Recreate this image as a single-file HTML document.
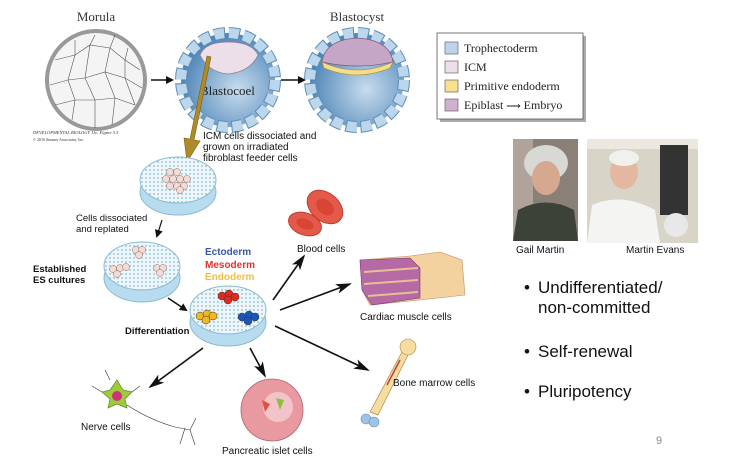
<!DOCTYPE html>
<html><head><meta charset="utf-8"><style>
html,body{margin:0;padding:0;background:#fff;}
svg{display:block;}
.s{font-family:"Liberation Serif",serif;}
.a{font-family:"Liberation Sans",sans-serif;}
</style></head><body>
<svg width="734" height="462" viewBox="0 0 734 462" xmlns="http://www.w3.org/2000/svg">
<defs>
<radialGradient id="cav" cx="0.6" cy="0.6" r="0.6"><stop offset="0" stop-color="#c8dcee"/><stop offset="1" stop-color="#4f86b8"/></radialGradient>
<pattern id="dots" width="4" height="4" patternUnits="userSpaceOnUse"><rect width="4" height="4" fill="#eef6fa"/><circle cx="2" cy="2" r="1" fill="#9cc9dc"/></pattern>
<marker id="ah" markerWidth="8" markerHeight="8" refX="6" refY="4" orient="auto" markerUnits="userSpaceOnUse"><path d="M0,0 L8,4 L0,8 z" fill="#111"/></marker>
<marker id="ah2" markerWidth="16" markerHeight="10" refX="14" refY="5" orient="auto" markerUnits="userSpaceOnUse"><path d="M0,0 L16,5 L0,10 L4,5 z" fill="#111"/></marker>
</defs>
<rect width="734" height="462" fill="#fff"/>

<!-- Morula -->
<text class="s" x="96" y="21" font-size="13" text-anchor="middle" fill="#333">Morula</text>
<circle cx="96" cy="80" r="49" fill="#f4f4f4" stroke="#999" stroke-width="4"/>
<g stroke="#555" stroke-width="0.6" fill="none">
<path d="M55,60 L75,55 L90,45 L110,48 L125,60 L140,70"/><path d="M50,85 L68,80 L85,78 L105,72 L125,78 L142,88"/>
<path d="M55,105 L75,100 L95,100 L115,98 L135,105"/><path d="M75,40 L75,55 L68,80 L75,100 L72,120"/>
<path d="M95,35 L90,45 L85,78 L95,100 L95,128"/><path d="M115,35 L110,48 L105,72 L115,98 L112,125"/><path d="M128,48 L125,60 L125,78 L135,105"/>
</g>
<text class="s" x="33" y="134" font-size="4.5" font-style="italic" fill="#333">DEVELOPMENTAL BIOLOGY 11e, Figure 5.5</text>
<text class="s" x="33" y="141" font-size="4" fill="#333">© 2016 Sinauer Associates, Inc.</text>
<line x1="151" y1="80" x2="172" y2="80" stroke="#111" stroke-width="1.5" marker-end="url(#ah)"/>

<!-- Blastocoel embryo -->
<circle cx="228" cy="80" r="47" fill="url(#cav)"/>
<circle cx="228" cy="80" r="47" fill="none" stroke="#5e8db5" stroke-width="12" stroke-dasharray="11 3.8"/>
<circle cx="228" cy="80" r="47" fill="none" stroke="#bcd6ec" stroke-width="10" stroke-dasharray="10 4.8"/>
<path d="M200,55 Q205,42 228,42 Q252,42 258,55 Q250,72 228,74 Q208,72 200,55z" fill="#ecdfea" stroke="#8c7a90" stroke-width="0.7"/>
<text class="s" x="200" y="95" font-size="13" fill="#222">Blastocoel</text>
<line x1="281" y1="80" x2="304" y2="80" stroke="#111" stroke-width="1.5" marker-end="url(#ah)"/>

<!-- Blastocyst -->
<text class="s" x="357" y="21" font-size="13" text-anchor="middle" fill="#333">Blastocyst</text>
<circle cx="357" cy="80" r="47" fill="url(#cav)"/>
<circle cx="357" cy="80" r="47" fill="none" stroke="#5e8db5" stroke-width="12" stroke-dasharray="11 3.8"/>
<circle cx="357" cy="80" r="47" fill="none" stroke="#bcd6ec" stroke-width="10" stroke-dasharray="10 4.8"/>
<path d="M322,62 Q325,40 357,38 Q390,40 393,62 Q357,70 322,62z" fill="#c6a6c6" stroke="#7a5a80" stroke-width="0.7"/>
<path d="M322,62 Q357,78 393,62 L390,68 Q357,82 324,68z" fill="#f7dc8a" stroke="#9a8a40" stroke-width="0.6"/>

<!-- Legend -->
<rect x="440" y="36" width="146" height="86" fill="#aaa"/>
<rect x="437" y="33" width="146" height="86" fill="#fff" stroke="#555" stroke-width="0.8"/>
<g stroke="#666" stroke-width="0.7">
<rect x="445" y="42" width="13" height="12" fill="#bcd5ea"/><rect x="445" y="61" width="13" height="12" fill="#ecdfea"/>
<rect x="445" y="80" width="13" height="12" fill="#fbdf8f"/><rect x="445" y="99" width="13" height="12" fill="#cfb0cf"/>
</g>
<g class="s" font-size="12" fill="#222">
<text x="464" y="52">Trophectoderm</text><text x="464" y="71">ICM</text>
<text x="464" y="90">Primitive endoderm</text><text x="464" y="109">Epiblast <tspan font-size="10">⟶</tspan> Embryo</text>
</g>

<!-- gold arrow -->
<polygon points="207,56 211,57 194,140 200,141 187,162 184,138 190,139" fill="#b08a2a" stroke="#7a5e10" stroke-width="0.6"/>
<g class="a" font-size="10" fill="#111">
<text x="203" y="139">ICM cells dissociated and</text><text x="203" y="150">grown on irradiated</text><text x="203" y="161">fibroblast feeder cells</text>
</g>

<!-- dish 1 -->
<ellipse cx="178" cy="192" rx="38" ry="23" fill="#b7dcef" stroke="#8cbad0"/>
<ellipse cx="178" cy="180" rx="38" ry="23" fill="url(#dots)" stroke="#8cbad0"/>
<g fill="#f4dcd4" stroke="#8a6a6a" stroke-width="0.5"><circle cx="170" cy="172" r="3.5"/><circle cx="177" cy="172" r="3.5"/><circle cx="166" cy="179" r="3.5"/><circle cx="173" cy="179" r="3.5"/><circle cx="180" cy="179" r="3.5"/><circle cx="187" cy="179" r="3.5"/><circle cx="170" cy="186" r="3.5"/><circle cx="177" cy="186" r="3.5"/><circle cx="184" cy="186" r="3.5"/><circle cx="180" cy="190" r="3.5"/></g>
<g class="a" font-size="9.5" fill="#111"><text x="76" y="221">Cells dissociated</text><text x="76" y="232">and replated</text></g>
<line x1="162" y1="220" x2="157" y2="236" stroke="#111" stroke-width="1.2" marker-end="url(#ah)"/>

<!-- dish 2 -->
<ellipse cx="142" cy="278" rx="38" ry="24" fill="#b7dcef" stroke="#8cbad0"/>
<ellipse cx="142" cy="266" rx="38" ry="24" fill="url(#dots)" stroke="#8cbad0"/>
<g fill="#f4dcd4" stroke="#8a6a6a" stroke-width="0.5"><circle cx="136" cy="250" r="3.5"/><circle cx="142" cy="250" r="3.5"/><circle cx="139" cy="255" r="3.5"/><circle cx="113" cy="269" r="3.5"/><circle cx="120" cy="268" r="3.5"/><circle cx="117" cy="274" r="3.5"/><circle cx="126" cy="267" r="3.5"/><circle cx="157" cy="268" r="3.5"/><circle cx="163" cy="268" r="3.5"/><circle cx="160" cy="273" r="3.5"/></g>
<g class="a" font-size="9.5" font-weight="bold" fill="#111"><text x="33" y="272">Established</text><text x="33" y="283">ES cultures</text></g>
<line x1="168" y1="298" x2="186" y2="310" stroke="#111" stroke-width="1.5" marker-end="url(#ah)"/>

<!-- dish 3 -->
<ellipse cx="228" cy="322" rx="38" ry="24" fill="#b7dcef" stroke="#8cbad0"/>
<ellipse cx="228" cy="310" rx="38" ry="24" fill="url(#dots)" stroke="#8cbad0"/>
<g stroke="#333" stroke-width="0.5"><g fill="#e02a20"><circle cx="222" cy="296" r="4"/><circle cx="229" cy="294" r="4"/><circle cx="235" cy="297" r="4"/><circle cx="228" cy="300" r="4"/></g>
<g fill="#f2b81c"><circle cx="200" cy="316" r="4"/><circle cx="207" cy="314" r="4"/><circle cx="213" cy="316" r="4"/><circle cx="206" cy="320" r="4"/></g>
<g fill="#1c55b8"><circle cx="242" cy="317" r="4"/><circle cx="249" cy="315" r="4"/><circle cx="255" cy="317" r="4"/><circle cx="248" cy="321" r="4"/></g></g>
<g class="a" font-size="10" font-weight="bold"><text x="205" y="255" fill="#3a58a8">Ectoderm</text><text x="205" y="268" fill="#e8302a">Mesoderm</text><text x="205" y="280" fill="#f2be40">Endoderm</text></g>
<text class="a" x="125" y="334" font-size="9.5" font-weight="bold" fill="#111">Differentiation</text>

<!-- arrows out -->
<g stroke="#111" stroke-width="1.6">
<line x1="273" y1="300" x2="304" y2="256" marker-end="url(#ah2)"/>
<line x1="280" y1="310" x2="350" y2="284" marker-end="url(#ah2)"/>
<line x1="275" y1="326" x2="368" y2="370" marker-end="url(#ah2)"/>
<line x1="250" y1="348" x2="265" y2="376" marker-end="url(#ah2)"/>
<line x1="203" y1="348" x2="150" y2="387" marker-end="url(#ah2)"/>
</g>

<!-- blood cells -->
<ellipse cx="325" cy="207" rx="20" ry="14" transform="rotate(40 325 207)" fill="#e35a4a" stroke="#c03a2e"/>
<ellipse cx="325" cy="207" rx="10" ry="7" transform="rotate(40 325 207)" fill="#d84535"/>
<ellipse cx="305" cy="224" rx="17" ry="11" transform="rotate(20 305 224)" fill="#e35a4a" stroke="#c03a2e"/>
<ellipse cx="305" cy="224" rx="9" ry="5" transform="rotate(20 305 224)" fill="#d84535"/>
<text class="a" x="297" y="252" font-size="10" fill="#111">Blood cells</text>

<!-- cardiac -->
<path d="M360,260 L410,256 L440,252 L462,260 L465,295 L420,300 L370,305 L362,290z" fill="#f3d2a0" stroke="#c09060" stroke-width="0.6"/>
<path d="M360,260 L410,258 L420,268 L420,298 L372,305 L362,290z" fill="#b56aa5" stroke="#803a70" stroke-width="0.6"/>
<g stroke="#e8c090" stroke-width="2"><line x1="364" y1="272" x2="418" y2="268"/><line x1="364" y1="284" x2="418" y2="280"/><line x1="368" y1="296" x2="418" y2="292"/></g>
<text class="a" x="360" y="320" font-size="10" fill="#111">Cardiac muscle cells</text>

<!-- bone -->
<path d="M370,412 L402,352 L408,355 L378,415z" fill="#f5dca0" stroke="#b08840" stroke-width="0.7"/>
<circle cx="408" cy="347" r="8" fill="#f5dca0" stroke="#b08840" stroke-width="0.6"/>
<circle cx="366" cy="419" r="5" fill="#9ec4e6" stroke="#6a8ab0" stroke-width="0.6"/><circle cx="374" cy="422" r="5" fill="#9ec4e6" stroke="#6a8ab0" stroke-width="0.6"/>
<line x1="387" y1="385" x2="400" y2="360" stroke="#c04040" stroke-width="1.5"/>
<text class="a" x="393" y="386" font-size="10" fill="#111">Bone marrow cells</text>

<!-- nerve -->
<path d="M110,390 L117,380 L123,390 L132,392 L125,399 L127,408 L117,404 L108,408 L110,399 L102,392z" fill="#9ccc3c" stroke="#5a8a20" stroke-width="0.7"/>
<circle cx="117" cy="396" r="5" fill="#d0307a"/>
<g stroke="#333" stroke-width="0.6" fill="none"><path d="M127,405 Q150,420 175,427 L190,430"/><path d="M190,430 L196,418 M190,430 L195,445 M185,428 L180,444 M102,392 L92,386 M110,380 L105,370 M132,392 L140,386"/></g>
<text class="a" x="81" y="430" font-size="10" fill="#111">Nerve cells</text>

<!-- pancreatic -->
<circle cx="272" cy="410" r="31" fill="#e89aa0" stroke="#b06070" stroke-width="0.8"/>
<circle cx="278" cy="407" r="15" fill="#f2c4ca"/>
<path d="M276,398 L284,400 L280,410z" fill="#8cc03c"/><path d="M262,400 L270,404 L265,412z" fill="#e05040"/>
<text class="a" x="222" y="454" font-size="10" fill="#111">Pancreatic islet cells</text>

<!-- photos -->
<rect x="513" y="139" width="65" height="102" fill="#8a8078"/>
<rect x="513" y="139" width="20" height="102" fill="#b0a49a"/>
<ellipse cx="546" cy="163" rx="22" ry="18" fill="#d8d8d4"/>
<ellipse cx="546" cy="178" rx="14" ry="17" fill="#d6a890"/>
<path d="M513,241 L518,210 Q546,195 574,210 L578,241z" fill="#3c4238"/>
<rect x="587" y="139" width="111" height="104" fill="#d8d4c8"/>
<rect x="587" y="139" width="111" height="10" fill="#ece8e0"/>
<rect x="660" y="145" width="28" height="70" fill="#333"/><circle cx="676" cy="225" r="12" fill="#e8e8e8"/>
<ellipse cx="624" cy="172" rx="14" ry="17" fill="#e4b8a0"/><ellipse cx="624" cy="158" rx="15" ry="8" fill="#f0f0ee"/>
<path d="M587,243 L592,205 Q622,192 655,210 L660,243z" fill="#f4f4f2"/>
<g class="a" font-size="10" fill="#111"><text x="516" y="253">Gail Martin</text><text x="626" y="253">Martin Evans</text></g>

<!-- bullets -->
<g class="a" font-size="17" fill="#111">
<text x="524" y="293">•</text><text x="538" y="293">Undifferentiated/</text><text x="538" y="313">non-committed</text>
<text x="524" y="357">•</text><text x="538" y="357">Self-renewal</text>
<text x="524" y="397">•</text><text x="538" y="397">Pluripotency</text>
</g>
<text class="a" x="656" y="444" font-size="11" fill="#888">9</text>
</svg>
</body></html>
